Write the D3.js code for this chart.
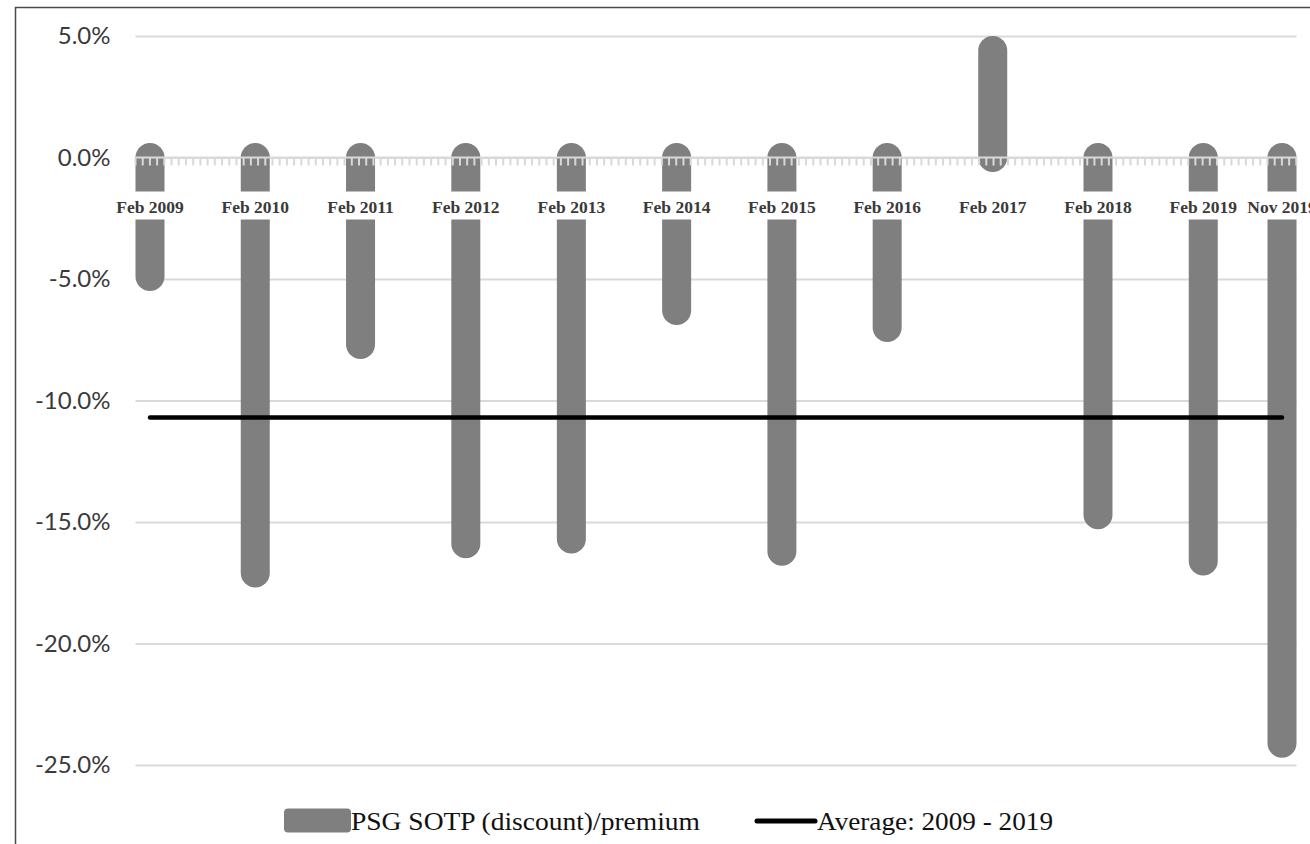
<!DOCTYPE html>
<html>
<head>
<meta charset="utf-8">
<script src="https://cdn.jsdelivr.net/npm/d3@7/dist/d3.min.js"></script>
<style>
  html, body { margin: 0; padding: 0; background: #fff; }
  svg { display: block; }
</style>
</head>
<body>
<svg id="chart" width="1310" height="844"></svg>
<script>
// Observation dates (UTC) and their labels
const periods = ["2009-02-01", "2010-02-01", "2011-02-01", "2012-02-01", "2013-02-01", "2014-02-01",
                 "2015-02-01", "2016-02-01", "2017-02-01", "2018-02-01", "2019-02-01", "2019-11-01"];
const periodLabels = ["Feb 2009", "Feb 2010", "Feb 2011", "Feb 2012", "Feb 2013", "Feb 2014",
                      "Feb 2015", "Feb 2016", "Feb 2017", "Feb 2018", "Feb 2019", "Nov 2019"];
// PSG sum-of-the-parts (discount)/premium, in percent
const sotpValues = [-4.9, -17.1, -7.7, -15.9, -15.7, -6.3, -16.2, -7.0, 4.4, -14.7, -16.6, -24.1];
// Average over 2009 - 2019, in percent
const averageValue = -10.7;
const yTicks = [5, 0, -5, -10, -15, -20, -25];
const seriesNames = ["PSG SOTP (discount)/premium", "Average: 2009 - 2019"];

const svg = d3.select("#chart");
const barColor = "#7f7f7f";
const gridColor = "#d9d9d9";
const barWidth = 29;

const dates = periods.map(d => new Date(d + "T00:00:00Z"));
const x = d3.scaleUtc().domain([dates[0], dates[dates.length - 1]]).range([150, 1282]);
const y = d3.scaleLinear().domain([-25, 5]).range([765, 36]);

const plotLeft = x.range()[0] - barWidth / 2;
const plotRight = x.range()[1] + barWidth / 2;

// Outer frame
svg.append("rect")
  .attr("x", 15.5).attr("y", 7.5)
  .attr("width", 1400).attr("height", 900)
  .attr("fill", "none").attr("stroke", "#4a4a4a").attr("stroke-width", 1.5);

// Horizontal gridlines with value labels (plain hyphen for negatives)
const yAxis = d3.axisLeft(y)
  .tickValues(yTicks)
  .tickSize(-(plotRight - plotLeft))
  .tickPadding(25)
  .tickFormat(d => d.toFixed(1) + "%");
const gy = svg.append("g")
  .attr("transform", `translate(${plotLeft},0)`)
  .call(yAxis);
gy.select(".domain").remove();
gy.selectAll(".tick line").attr("stroke", gridColor).attr("stroke-width", 2);
gy.selectAll(".tick text")
  .attr("fill", "#3a3a3a")
  .style("font-family", "Lato, 'Open Sans', sans-serif")
  .style("font-size", "24px");

// Bars with rounded ends
svg.append("g").selectAll("line")
  .data(sotpValues)
  .join("line")
  .attr("x1", (d, i) => x(dates[i]))
  .attr("x2", (d, i) => x(dates[i]))
  .attr("y1", y(0))
  .attr("y2", d => y(d))
  .attr("stroke", barColor)
  .attr("stroke-width", barWidth)
  .attr("stroke-linecap", "round");

// Zero line with fine tick marks
const tickStep = 25 * 864e5;
const tickTimes = d3.range(x.invert(plotLeft).getTime(), x.invert(plotRight).getTime() + 1, tickStep);
const zeroAxis = svg.append("g");
zeroAxis.append("line")
  .attr("x1", plotLeft).attr("x2", plotRight)
  .attr("y1", y(0)).attr("y2", y(0))
  .attr("stroke", gridColor).attr("stroke-width", 2);
zeroAxis.selectAll("line.mt")
  .data(tickTimes)
  .join("line")
  .attr("class", "mt")
  .attr("x1", d => x(new Date(d))).attr("x2", d => x(new Date(d)))
  .attr("y1", y(0)).attr("y2", y(0) + 8)
  .attr("stroke", gridColor).attr("stroke-width", 2);

// Average line
svg.append("line")
  .attr("x1", x(dates[0])).attr("x2", x(dates[dates.length - 1]))
  .attr("y1", y(averageValue)).attr("y2", y(averageValue))
  .attr("stroke", "#000").attr("stroke-width", 4.5)
  .attr("stroke-linecap", "round");

// Period labels on white plates
const labelY = y(0) + 50;
const lg = svg.append("g").selectAll("g")
  .data(periodLabels)
  .join("g")
  .attr("transform", (d, i) => `translate(${x(dates[i])},${labelY})`);
lg.append("rect")
  .attr("x", -37).attr("y", -16)
  .attr("width", 74).attr("height", 28)
  .attr("fill", "#fff");
lg.append("text")
  .attr("text-anchor", "middle")
  .attr("y", 5)
  .attr("fill", "#3a3a3a")
  .style("font-family", "'Liberation Serif', serif")
  .style("font-weight", "bold")
  .style("font-size", "17.5px")
  .text(d => d);

// Legend
const legend = svg.append("g");
legend.append("rect")
  .attr("x", 284).attr("y", 808.5)
  .attr("width", 67).attr("height", 24).attr("rx", 4)
  .attr("fill", barColor);
legend.append("text")
  .attr("x", 351).attr("y", 829.5)
  .attr("textLength", 349).attr("lengthAdjust", "spacingAndGlyphs")
  .attr("fill", "#111")
  .style("font-family", "'Liberation Serif', serif")
  .style("font-size", "25px")
  .text(seriesNames[0]);
legend.append("line")
  .attr("x1", 757).attr("x2", 815)
  .attr("y1", 821).attr("y2", 821)
  .attr("stroke", "#000").attr("stroke-width", 5)
  .attr("stroke-linecap", "round");
legend.append("text")
  .attr("x", 817).attr("y", 829.5)
  .attr("textLength", 236).attr("lengthAdjust", "spacingAndGlyphs")
  .attr("fill", "#111")
  .style("font-family", "'Liberation Serif', serif")
  .style("font-size", "25px")
  .text(seriesNames[1]);
</script>
</body>
</html>
